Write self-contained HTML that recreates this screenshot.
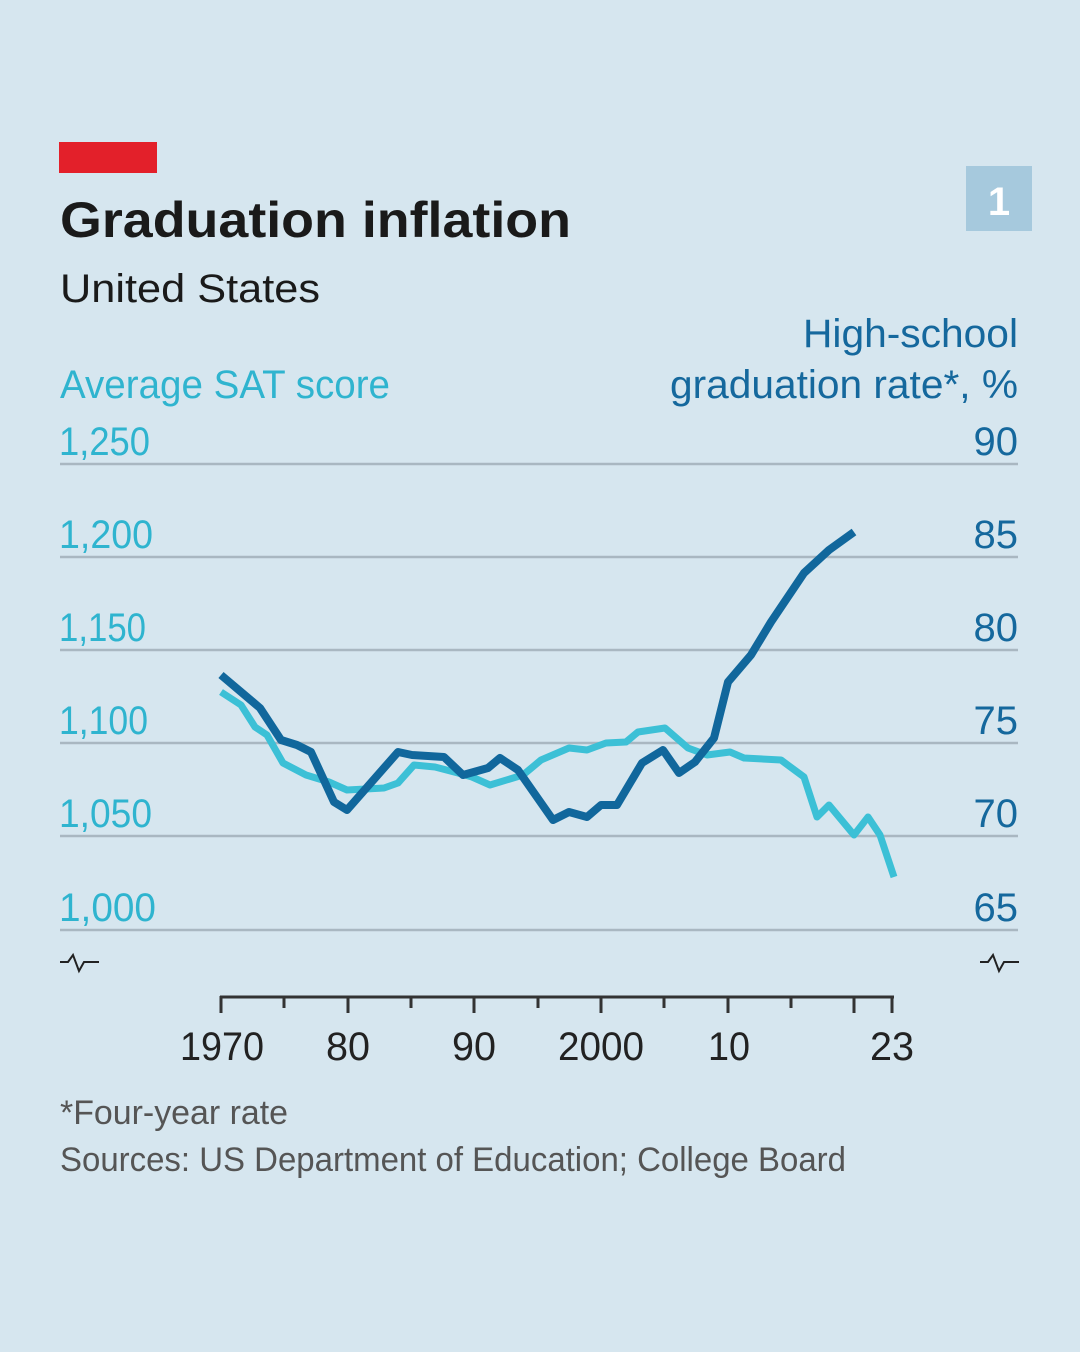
<!DOCTYPE html>
<html><head><meta charset="utf-8"><style>
html,body{margin:0;padding:0;}
body{width:1080px;height:1347px;background:#d6e6ef;overflow:hidden;font-family:"Liberation Sans",sans-serif;}
</style></head><body>
<svg width="1080" height="1347" xmlns="http://www.w3.org/2000/svg" font-family="Liberation Sans, sans-serif">
<rect width="1080" height="1347" fill="#d6e6ef"/>
<rect x="59" y="142" width="98" height="31" fill="#e3202a"/>
<text x="60" y="237" font-size="50" font-weight="bold" fill="#1a1a1a" textLength="511" lengthAdjust="spacingAndGlyphs">Graduation inflation</text>
<text x="60" y="302" font-size="40" fill="#1a1a1a" textLength="260" lengthAdjust="spacingAndGlyphs">United States</text>
<rect x="966" y="166" width="66" height="65" fill="#a6c9dd"/>
<text x="999" y="215" font-size="40" font-weight="bold" fill="#fff" text-anchor="middle">1</text>
<text x="60" y="398" font-size="40" fill="#2fb4cf" textLength="330" lengthAdjust="spacingAndGlyphs">Average SAT score</text>
<text x="1018" y="347" font-size="40" fill="#15689d" text-anchor="end" textLength="215" lengthAdjust="spacingAndGlyphs">High-school</text>
<text x="1018" y="398" font-size="40" fill="#15689d" text-anchor="end" textLength="348" lengthAdjust="spacingAndGlyphs">graduation rate*, %</text>
<g stroke="#a9b7c1" stroke-width="2.5">
<line x1="60" y1="464" x2="1018" y2="464"/><line x1="60" y1="557" x2="1018" y2="557"/>
<line x1="60" y1="650" x2="1018" y2="650"/><line x1="60" y1="743" x2="1018" y2="743"/>
<line x1="60" y1="836" x2="1018" y2="836"/><line x1="60" y1="930" x2="1018" y2="930"/>
</g>
<g font-size="40" fill="#2fb4cf">
<text x="59" y="455" textLength="91" lengthAdjust="spacingAndGlyphs">1,250</text>
<text x="59" y="548" textLength="94" lengthAdjust="spacingAndGlyphs">1,200</text>
<text x="59" y="641" textLength="87" lengthAdjust="spacingAndGlyphs">1,150</text>
<text x="59" y="734" textLength="89" lengthAdjust="spacingAndGlyphs">1,100</text>
<text x="59" y="827" textLength="93" lengthAdjust="spacingAndGlyphs">1,050</text>
<text x="59" y="921" textLength="97" lengthAdjust="spacingAndGlyphs">1,000</text>
</g>
<g font-size="40" fill="#15689d" text-anchor="end">
<text x="1018" y="455">90</text><text x="1018" y="548">85</text><text x="1018" y="641">80</text>
<text x="1018" y="734">75</text><text x="1018" y="827">70</text><text x="1018" y="921">65</text>
</g>
<g fill="none" stroke="#222" stroke-width="2">
<polyline points="60,962 68,962 73,955 79,971 84,962 99,962"/>
<polyline points="980,962 988,962 993,955 999,971 1004,962 1019,962"/>
</g>
<g stroke="#333" stroke-width="3">
<line x1="220" y1="997" x2="894" y2="997"/>
<line x1="221" y1="996" x2="221" y2="1013"/><line x1="284" y1="996" x2="284" y2="1008"/>
<line x1="348" y1="996" x2="348" y2="1013"/><line x1="411" y1="996" x2="411" y2="1008"/>
<line x1="474" y1="996" x2="474" y2="1013"/><line x1="538" y1="996" x2="538" y2="1008"/>
<line x1="601" y1="996" x2="601" y2="1013"/><line x1="664" y1="996" x2="664" y2="1008"/>
<line x1="728" y1="996" x2="728" y2="1013"/><line x1="791" y1="996" x2="791" y2="1008"/>
<line x1="854" y1="996" x2="854" y2="1013"/><line x1="892" y1="996" x2="892" y2="1013"/>
</g>
<g font-size="40" fill="#222" text-anchor="middle">
<text x="222" y="1060" textLength="84" lengthAdjust="spacingAndGlyphs">1970</text>
<text x="348" y="1060" textLength="44" lengthAdjust="spacingAndGlyphs">80</text>
<text x="474" y="1060" textLength="44" lengthAdjust="spacingAndGlyphs">90</text>
<text x="601" y="1060" textLength="86" lengthAdjust="spacingAndGlyphs">2000</text>
<text x="729" y="1060" textLength="42" lengthAdjust="spacingAndGlyphs">10</text>
<text x="892" y="1060" textLength="44" lengthAdjust="spacingAndGlyphs">23</text>
</g>
<polyline fill="none" stroke="#3cc0d6" stroke-width="7" stroke-linejoin="round" points="221,692 241,705 255,727 267,735 283,763 306,775 329,782 347,790 384,788 398,783 414,765 435,767 458,773 472,777 490,785 523,775 541,760 569,748 587,750 606,743 626,742 638,732 665,728 688,748 707,755 730,752 744,758 781,760 804,777 817,817 829,805 854,835 868,817 880,835 894,877"/>
<polyline fill="none" stroke="#11679c" stroke-width="8" stroke-linejoin="round" points="221,675 260,708 281,740 297,745 311,752 334,802 347,810 398,752 412,755 444,757 463,775 488,768 500,758 518,770 553,820 569,812 587,817 601,805 617,805 642,763 663,750 679,773 695,762 714,738 728,682 751,655 771,622 804,573 829,550 854,532"/>
<text x="60" y="1124" font-size="34" fill="#555" textLength="228" lengthAdjust="spacingAndGlyphs">*Four-year rate</text>
<text x="60" y="1171" font-size="34" fill="#555" textLength="786" lengthAdjust="spacingAndGlyphs">Sources: US Department of Education; College Board</text>
</svg>
</body></html>
